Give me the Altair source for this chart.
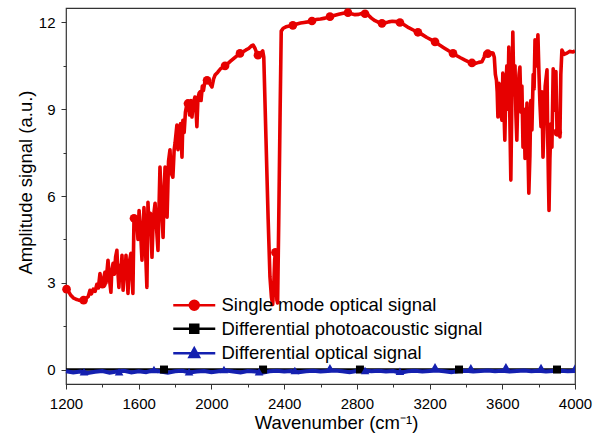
import altair as alt
import pandas as pd

# ---------------- data ----------------
red_x = [1200, 1212, 1225, 1240, 1255, 1270, 1285, 1297, 1310, 1322, 1332, 1340, 1350, 1360, 1370, 1378,
         1387, 1394, 1404, 1414, 1420, 1431, 1438, 1447, 1452, 1459, 1466, 1473, 1480, 1485, 1491, 1497,
         1502, 1508, 1514, 1520, 1525, 1530, 1535, 1541, 1548, 1557, 1563, 1568, 1574, 1582, 1590, 1596,
         1602, 1610, 1618, 1623, 1629, 1636, 1645, 1651, 1657, 1664, 1673, 1680, 1690, 1698, 1706, 1717,
         1724, 1734, 1740, 1745, 1750, 1756, 1764, 1772, 1778, 1788, 1795, 1800, 1810, 1816, 1822, 1830,
         1838, 1843, 1850, 1857, 1866, 1873, 1880, 1887, 1893, 1900, 1909, 1915, 1920, 1926, 1932, 1937,
         1943, 1950, 1956, 1964, 1976, 1990, 2003, 2012, 2020, 2035, 2050, 2063, 2075, 2090, 2105, 2120,
         2135, 2157, 2172, 2190, 2205, 2218, 2229, 2240, 2250, 2258, 2266, 2274, 2282, 2288, 2300, 2312,
         2322, 2330, 2337, 2343, 2348, 2352, 2356, 2360, 2364, 2370, 2378, 2384, 2395, 2410, 2430, 2448,
         2470, 2490, 2510, 2530, 2553, 2575, 2600, 2625, 2652, 2675, 2700, 2725, 2751, 2770, 2790, 2810,
         2830, 2845, 2862, 2880, 2900, 2920, 2938, 2955, 2975, 2995, 3015, 3037, 3060, 3085, 3110, 3136,
         3160, 3185, 3210, 3230, 3255, 3280, 3305, 3329, 3350, 3370, 3395, 3415, 3433, 3450, 3470, 3488,
         3500, 3505, 3515, 3528, 3540, 3549, 3556, 3562, 3568, 3572, 3576, 3582, 3590, 3598, 3603, 3608,
         3614, 3620, 3625, 3630, 3636, 3642, 3647, 3652, 3658, 3664, 3670, 3675, 3680, 3686, 3692, 3697,
         3703, 3708, 3714, 3720, 3725, 3730, 3736, 3741, 3746, 3752, 3757, 3763, 3770, 3775, 3780, 3788,
         3796, 3802, 3807, 3813, 3818, 3824, 3830, 3836, 3846, 3850, 3854, 3857, 3862, 3868, 3873, 3880,
         3885, 3890, 3895, 3901, 3908, 3913, 3917, 3922, 3928, 3940, 3956, 3970, 3989, 4000]
red_y = [2.82, 2.72, 2.58, 2.48, 2.43, 2.40, 2.38, 2.40, 2.46, 2.52, 2.74, 2.62, 2.78, 2.70, 2.95, 2.82,
         3.32, 2.95, 3.05, 3.36, 3.00, 3.78, 3.20, 2.67, 3.40, 3.67, 3.30, 3.90, 4.12, 3.40, 2.84, 3.60,
         3.30, 3.95, 2.74, 3.50, 3.20, 3.95, 3.30, 2.63, 3.70, 4.02, 3.20, 2.63, 5.23, 5.00, 5.06, 4.50,
         5.50, 4.80, 3.78, 4.60, 5.60, 4.40, 2.84, 5.78, 4.90, 5.40, 3.88, 5.20, 5.75, 4.90, 4.12, 7.00,
         5.90, 4.57, 6.20, 7.00, 6.00, 5.27, 7.20, 7.60, 6.80, 6.65, 7.60, 7.83, 8.45, 7.60, 8.20, 8.50,
         7.34, 8.62, 8.20, 8.90, 9.20, 9.25, 8.80, 9.30, 8.73, 9.20, 9.42, 9.00, 8.40, 9.40, 9.55, 9.60,
         9.30, 9.80, 9.65, 9.95, 10.02, 9.90, 9.77, 10.05, 10.18, 10.28, 10.40, 10.45, 10.50, 10.58, 10.66, 10.74,
         10.82, 10.93, 10.98, 11.05, 11.10, 11.18, 11.22, 11.10, 10.92, 10.85, 10.88, 10.96, 11.02, 10.80, 8.00, 5.20,
         3.20, 2.50, 2.25, 2.90, 3.80, 4.05, 3.40, 2.40, 2.30, 5.00, 9.00, 11.70, 11.80, 11.85, 11.88, 11.90,
         11.95, 11.98, 12.00, 12.02, 12.05, 12.10, 12.12, 12.15, 12.20, 12.24, 12.28, 12.32, 12.34, 12.30, 12.27, 12.28,
         12.32, 12.32, 12.26, 12.15, 12.06, 12.00, 11.97, 11.98, 12.02, 12.04, 12.03, 12.00, 11.92, 11.82, 11.74, 11.66,
         11.58, 11.48, 11.40, 11.33, 11.22, 11.12, 11.02, 10.93, 10.85, 10.78, 10.70, 10.64, 10.60, 10.58, 10.62, 10.64,
         10.80, 10.94, 10.93, 10.90, 10.95, 10.94, 10.80, 10.20, 10.00, 9.60, 8.73, 9.90, 8.90, 8.62, 10.25, 9.20,
         7.93, 9.80, 10.50, 9.00, 11.15, 8.50, 6.55, 9.00, 11.67, 9.50, 10.50, 8.80, 7.93, 9.50, 10.20, 10.46,
         8.90, 9.80, 7.69, 9.00, 7.30, 8.20, 9.21, 7.60, 6.10, 7.40, 9.30, 8.28, 10.20, 9.70, 11.40, 10.50,
         11.57, 10.20, 9.21, 8.40, 9.60, 7.34, 8.60, 9.80, 10.36, 8.00, 6.50, 5.50, 7.30, 8.50, 7.69, 10.40,
         9.80, 8.97, 10.30, 8.28, 8.20, 8.50, 8.04, 10.20, 11.05, 10.90, 10.94, 11.00, 10.98, 11.02]

red_marker_x = [1203, 1297, 1400, 1574, 1871, 1976, 2075, 2157, 2256, 2352, 2448, 2553, 2652,
                2751, 2845, 2938, 3037, 3136, 3230, 3329, 3433, 3520, 3905]
red_marker_y = [2.78, 2.40, 2.95, 5.23, 9.20, 10.00, 10.50, 10.93, 10.87, 4.05, 11.90, 12.05, 12.20,
                12.34, 12.30, 11.97, 12.00, 11.66, 11.33, 10.93, 10.60, 10.92, 8.20]

black_x = [1200, 1739, 2284, 2817, 3362, 3901, 4000]
black_y = [0.0, 0.0, 0.0, 0.0, 0.0, 0.0, 0.0]
black_marker_x = [1739, 2284, 2817, 3362, 3901]
black_marker_y = [0.0, 0.0, 0.0, 0.0, 0.0]

blue_x = [1200, 1240, 1280, 1320, 1360, 1400, 1440, 1480, 1520, 1560, 1600, 1640, 1680, 1720, 1760,
          1800, 1840, 1880, 1920, 1960, 2000, 2040, 2080, 2120, 2160, 2200, 2240, 2280, 2320, 2360,
          2400, 2440, 2480, 2520, 2560, 2600, 2640, 2680, 2720, 2760, 2800, 2840, 2880, 2920, 2960,
          3000, 3040, 3080, 3120, 3160, 3200, 3240, 3280, 3320, 3360, 3400, 3440, 3480, 3520, 3560,
          3600, 3640, 3680, 3720, 3760, 3800, 3840, 3880, 3920, 3960, 4000]
blue_y = [-0.06, -0.10, -0.07, -0.12, -0.08, -0.05, -0.11, -0.07, -0.04, -0.10, -0.06, -0.09, -0.03, -0.07, -0.11,
          -0.06, -0.04, -0.10, -0.07, -0.05, -0.09, -0.06, -0.03, -0.07, -0.10, -0.05, -0.07, -0.11, -0.06, -0.04,
          -0.07, -0.05, -0.09, -0.06, -0.04, -0.07, -0.05, -0.03, -0.06, -0.09, -0.05, -0.03, -0.06, -0.04, -0.07,
          -0.05, -0.11, -0.06, -0.04, -0.07, -0.05, -0.03, -0.06, -0.09, -0.05, -0.04, -0.07, -0.05, -0.03, -0.06,
          -0.04, -0.07, -0.05, -0.03, -0.06, -0.04, -0.07, -0.05, -0.04, -0.06, -0.05]
blue_marker_x = [1299, 1492, 1684, 1877, 2069, 2262, 2459, 2652, 2845, 3037, 3230, 3427, 3620, 3813, 4000]
blue_marker_y = [-0.08, -0.08, 0.00, -0.08, 0.00, -0.08, -0.03, 0.06, -0.03, -0.06, 0.10, 0.06, 0.10, 0.07, 0.05]

series_names = ["Single mode optical signal", "Differential photoacoustic signal", "Differential optical signal"]
series_colors = ["#e60000", "#000000", "#1420b0"]

x_major = [1200, 1600, 2000, 2400, 2800, 3200, 3600, 4000]
x_minor = [1400, 1800, 2200, 2600, 3000, 3400, 3800]
y_major = [0, 3, 6, 9, 12]
y_minor = [1.5, 4.5, 7.5, 10.5]

# ---------------- chart ----------------
FONT = "Liberation Sans"
FRAME = "#333333"

red_df = pd.DataFrame({"x": red_x, "y": red_y})
red_m_df = pd.DataFrame({"x": red_marker_x, "y": red_marker_y})
black_df = pd.DataFrame({"x": black_x, "y": black_y})
black_m_df = pd.DataFrame({"x": black_marker_x, "y": black_marker_y})
blue_df = pd.DataFrame({"x": blue_x, "y": blue_y})
blue_m_df = pd.DataFrame({"x": blue_marker_x, "y": blue_marker_y})
legend_df = pd.DataFrame({"series": series_names})

xs = alt.Scale(domain=[1200, 4000], nice=False, zero=False)
ys = alt.Scale(domain=[-0.5, 12.5], nice=False, zero=False)

x_main_axis = alt.Axis(values=x_major, format="d", orient="bottom",
                       title="Wavenumber (cm⁻¹)", titleFont=FONT, titleFontSize=18.5,
                       titleFontWeight="normal", titleColor="#000000", titleX=270, titlePadding=2,
                       labelFont=FONT, labelFontSize=15, labelColor="#000000", labelPadding=7,
                       labelFlush=False, labelOverlap=False, tickSize=5, tickColor=FRAME,
                       domain=False, grid=False)
y_main_axis = alt.Axis(values=y_major, format="d", orient="left",
                       title="Amplitude signal (a.u.)", titleFont=FONT, titleFontSize=18.5,
                       titleFontWeight="normal", titleColor="#000000", titleY=174, titlePadding=3,
                       labelFont=FONT, labelFontSize=15, labelColor="#000000", labelPadding=6,
                       labelFlush=False, labelOverlap=False, tickSize=5, tickColor=FRAME,
                       domain=False, grid=False)
x_minor_axis = alt.Axis(values=x_minor, orient="bottom", labels=False, title=None,
                        tickSize=3, tickColor=FRAME, domain=False, grid=False)
y_minor_axis = alt.Axis(values=y_minor, orient="left", labels=False, title=None,
                        tickSize=3, tickColor=FRAME, domain=False, grid=False)

red_line = alt.Chart(red_df).mark_line(color=series_colors[0], strokeWidth=3.6, clip=True,
                                       strokeJoin="round").encode(
    x=alt.X("x:Q", scale=xs, axis=x_main_axis),
    y=alt.Y("y:Q", scale=ys, axis=y_main_axis),
)
red_pts = alt.Chart(red_m_df).mark_point(shape="circle", filled=True, size=75, opacity=1,
                                         color=series_colors[0]).encode(
    x=alt.X("x:Q", scale=xs, axis=None), y=alt.Y("y:Q", scale=ys, axis=None))

black_line = alt.Chart(black_df).mark_line(color=series_colors[1], strokeWidth=2.5).encode(
    x=alt.X("x:Q", scale=xs, axis=x_minor_axis),
    y=alt.Y("y:Q", scale=ys, axis=y_minor_axis),
)
blue_line = alt.Chart(blue_df).mark_line(color=series_colors[2], strokeWidth=4).encode(
    x=alt.X("x:Q", scale=xs, axis=None), y=alt.Y("y:Q", scale=ys, axis=None))
black_pts = alt.Chart(black_m_df).mark_point(shape="square", filled=True, size=64, opacity=1,
                                             color=series_colors[1]).encode(
    x=alt.X("x:Q", scale=xs, axis=None), y=alt.Y("y:Q", scale=ys, axis=None))
blue_pts = alt.Chart(blue_m_df).mark_point(shape="triangle-up", filled=True, size=75, opacity=1,
                                           color=series_colors[2], clip=True).encode(
    x=alt.X("x:Q", scale=xs, axis=None), y=alt.Y("y:Q", scale=ys, axis=None))

# legend symbols: a line with the series marker in the middle (custom paths)
legend_shapes = [
    "M-4.2,0L4.2,0M-0.9,0A0.9,0.9,0,1,1,0.9,0A0.9,0.9,0,1,1,-0.9,0Z",
    "M-4.2,0L4.2,0M-0.8,-0.8L0.8,-0.8L0.8,0.8L-0.8,0.8Z",
    "M-4.2,0L4.2,0M0,-1.0L0.95,0.75L-0.95,0.75Z",
]
leg = alt.Legend(orient="none", legendX=119, legendY=288, title=None, labelFont=FONT,
                 labelFontSize=18.5, labelColor="#000000", symbolSize=100, symbolStrokeWidth=2.5,
                 labelOffset=18, rowPadding=4.5, padding=0, labelLimit=400)
legend_layer = alt.Chart(legend_df).mark_point(filled=True, size=100, opacity=1, strokeWidth=2.5).encode(
    x=alt.value(0), y=alt.value(0),
    fill=alt.Fill("series:N", scale=alt.Scale(domain=series_names, range=series_colors), legend=leg),
    stroke=alt.Stroke("series:N", scale=alt.Scale(domain=series_names, range=series_colors), legend=leg),
    shape=alt.Shape("series:N", scale=alt.Scale(domain=series_names, range=legend_shapes), legend=leg),
).transform_filter("false")

chart = alt.layer(red_line, red_pts, black_line, blue_line, black_pts, blue_pts, legend_layer).resolve_axis(
    x="independent", y="independent"
).properties(
    width=509, height=376,
    autosize=alt.AutoSizeParams(type="none"),
    padding={"left": 66, "top": 8, "right": 27, "bottom": 53},
    background="#ffffff",
).configure_view(stroke=FRAME, strokeWidth=1.2)

chart.save("out.html", embed_options={"renderer": "svg", "actions": False})
